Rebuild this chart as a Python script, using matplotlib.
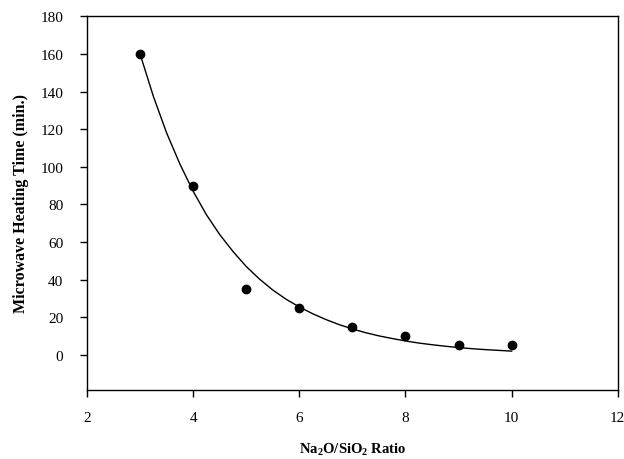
import matplotlib
matplotlib.use("Agg")
import matplotlib.pyplot as plt

plt.rcParams['font.family'] = ['Liberation Serif', 'DejaVu Serif']
plt.rcParams['mathtext.fontset'] = 'custom'
plt.rcParams['mathtext.rm'] = 'Liberation Serif'
plt.rcParams['mathtext.bf'] = 'Liberation Serif:bold'

# measured points
ratio = [3, 4, 5, 6, 7, 8, 9, 10]
heat_time = [160, 90, 35, 25, 15, 10, 5, 5]

# fitted curve
fit_x = [3.0, 3.25, 3.5, 3.75, 4.0, 4.25, 4.5, 4.75, 5.0, 5.25, 5.5, 5.75,
         6.0, 6.25, 6.5, 6.75, 7.0, 7.25, 7.5, 7.75, 8.0, 8.25, 8.5, 8.75,
         9.0, 9.25, 9.5, 9.75, 10.0]
fit_y = [160, 137.5, 118, 101.5, 87, 74.5, 64, 55, 47, 40.3, 34.5, 29.6,
         25.5, 21.9, 18.8, 16.1, 13.8, 11.8, 10.1, 8.7, 7.4, 6.3, 5.4, 4.6,
         3.9, 3.3, 2.8, 2.4, 2.0]

x_ticks = [2, 4, 6, 8, 10, 12]
y_ticks = [0, 20, 40, 60, 80, 100, 120, 140, 160, 180]

fig = plt.figure(figsize=(6.24, 4.6), dpi=100)
ax = fig.add_axes([0.1394, 0.1507, 0.8506, 0.8117])

ax.plot(fit_x, fit_y, color='black', linewidth=1.0, zorder=2)
ax.plot(ratio, heat_time, 'o', color='black', markersize=6, zorder=3)

ax.set_xlim(2, 12)
ax.set_ylim(-18.5, 180)
ax.set_xticks(x_ticks)
ax.set_yticks(y_ticks)
ax.tick_params(direction='out', length=5, width=1, labelsize=11)
ax.tick_params(axis='x', pad=10)
ax.tick_params(axis='y', pad=12)
for sp in ax.spines.values():
    sp.set_linewidth(1.0)

ax.set_xlabel(r'Na$_\mathbf{2}$O/SiO$_\mathbf{2}$ Ratio', fontsize=10.5, fontweight='bold', labelpad=12)
ax.set_ylabel('Microwave Heating Time (min.)', fontsize=11.5, fontweight='bold', labelpad=8)

fig.savefig('out.png', dpi=100)
